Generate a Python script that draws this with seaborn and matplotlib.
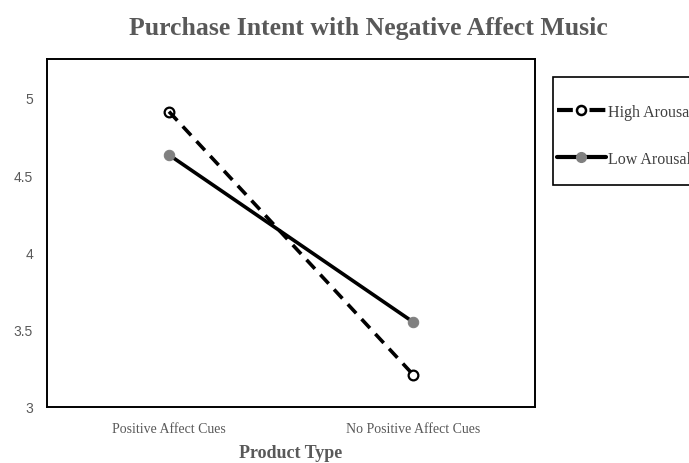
import matplotlib
matplotlib.use("Agg")
import matplotlib.pyplot as plt
from matplotlib.patches import Rectangle
import seaborn as sns
import pandas as pd

categories = ["Positive Affect Cues", "No Positive Affect Cues"]
high_arousal = [4.91, 3.21]
low_arousal = [4.63, 3.55]
series_names = ["High Arousal", "Low Arousal"]
y_ticks = [3, 3.5, 4, 4.5, 5]
y_tick_labels = ["3", "3.5", "4", "4.5", "5"]

df = pd.DataFrame({
    "x": list(range(len(categories))) * 2,
    "value": high_arousal + low_arousal,
    "series": [series_names[0]] * len(categories) + [series_names[1]] * len(categories),
})

sns.set_theme(style="white")
plt.rcParams["font.family"] = ["Liberation Serif", "DejaVu Serif"]

fig = plt.figure(figsize=(6.89, 4.64), dpi=100)
ax = fig.add_axes([47 / 689, 1 - 408 / 464, (535 - 47) / 689, (408 - 60) / 464])

sns.lineplot(
    data=df, x="x", y="value", hue="series", style="series",
    palette={series_names[0]: "black", series_names[1]: "black"},
    dashes={series_names[0]: (3.4, 2.2), series_names[1]: ""},
    markers={series_names[0]: "o", series_names[1]: "o"},
    linewidth=2.6, ax=ax, legend=False,
)

# marker styling per series
lines = ax.get_lines()
lines[0].set_markerfacecolor("none")
lines[0].set_markeredgecolor("black")
lines[0].set_markeredgewidth(1.6)
lines[0].set_markersize(7)
lines[1].set_markerfacecolor("#808080")
lines[1].set_markeredgecolor("#808080")
lines[1].set_markersize(7.5)

ax.set_xlim(-0.5, 1.5)
ax.set_ylim(3, 5.25)
ax.set_xticks(range(len(categories)))
ax.set_xticklabels(categories, fontsize=10, color="#595959")
ax.set_yticks(y_ticks)
ax.set_yticklabels(y_tick_labels, fontsize=10, color="#595959",
                   family=["Liberation Sans", "DejaVu Sans"])
ax.tick_params(axis="x", length=0, pad=11)
ax.tick_params(axis="y", length=0, pad=10)
for s in ax.spines.values():
    s.set_color("black")
    s.set_linewidth(1.4)
ax.set_xlabel("Product Type", fontsize=13, fontweight="bold", color="#595959", labelpad=6)
ax.set_ylabel("")

fig.text(368 / 689, 1 - 29 / 464, "Purchase Intent with Negative Affect Music",
         ha="center", va="center", fontsize=18.5, fontweight="bold", color="#595959")

# legend box (runs past the right edge of the figure)
fig.patches.append(Rectangle((553 / 689, 1 - 186 / 464), 160 / 689, 108 / 464,
                             transform=fig.transFigure, facecolor="white",
                             edgecolor="black", linewidth=1.2, zorder=1))

handles = [
    plt.Line2D([], [], color="black", linestyle=(0, (3.8, 4.0)), linewidth=3.0,
               marker="o", markerfacecolor="none", markeredgecolor="black",
               markeredgewidth=1.8, markersize=6.5),
    plt.Line2D([], [], color="black", linewidth=3.0, marker="o",
               markerfacecolor="#808080", markeredgecolor="#808080", markersize=7),
]
leg = fig.legend(handles, series_names, loc="center left",
                 bbox_to_anchor=(557 / 689, 1 - 136.5 / 464),
                 frameon=False, fontsize=11.5, labelspacing=1.95,
                 handlelength=3.05, handletextpad=0.15, borderpad=0,
                 borderaxespad=0)
leg.set_zorder(2)
for t in leg.get_texts():
    t.set_color("#404040")

fig.savefig("out.png", dpi=100)
